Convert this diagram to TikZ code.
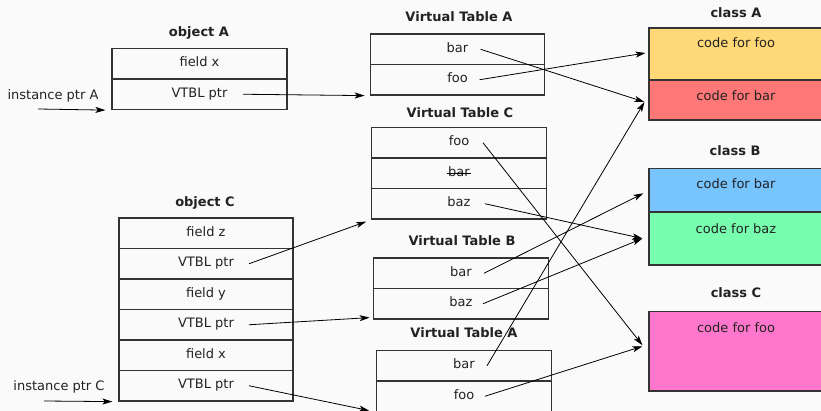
\documentclass[tikz,border=0pt]{standalone}
\usepackage{fontspec}
\setmainfont{DejaVu Sans}
\usetikzlibrary{arrows.meta,calc}
\definecolor{bgc}{HTML}{FAFAFA}
\definecolor{edge}{HTML}{333333}
\definecolor{txt}{HTML}{222222}
\definecolor{cyel}{HTML}{FFD977}
\definecolor{cred}{HTML}{FF7777}
\definecolor{cblue}{HTML}{77C4FF}
\definecolor{cgreen}{HTML}{77FFAF}
\definecolor{cmag}{HTML}{FF77CC}
\begin{document}
\begin{tikzpicture}[x=1pt,y=-1pt,
  font=\fontsize{13}{15}\selectfont, text=txt,
  cell/.style={draw=edge, line width=1.2pt, inner sep=0pt, minimum height=30.5pt,
    text height=9pt, text depth=3pt},
  objcell/.style={cell, minimum width=175pt},
  vtcell/.style={cell, minimum width=174.5pt},
  cls/.style={draw=edge, line width=1.1pt, inner sep=0pt, minimum width=181pt},
  title/.style={font=\fontsize{13}{15}\selectfont\bfseries, inner sep=0pt},
  lbl/.style={inner sep=0pt},
  ptr/.style={draw=black, line width=0.8pt, -{Stealth[length=10pt,width=6pt,inset=2.5pt]}}]
\useasboundingbox[fill=bgc] (0,0) rectangle (821,411);

% object A
\node[title] (tOA) at (199,33) {object A};
\node[objcell] (oa1) at (199.5,63.75) {field x};
\node[objcell] (oa2) at (199.5,94.25) {VTBL ptr};
\node[lbl] (ipa) at (53,96) {instance ptr A};
\coordinate (ipaS) at (38,109);

% object C
\node[title] (tOC) at (205,203) {object C};
\node[objcell, minimum width=174pt] (oc1) at (206,233.25) {field z};
\node[objcell, minimum width=174pt] (oc2) at (206,263.75) {VTBL ptr};
\node[objcell, minimum width=174pt] (oc3) at (206,294.25) {field y};
\node[objcell, minimum width=174pt] (oc4) at (206,324.75) {VTBL ptr};
\node[objcell, minimum width=174pt] (oc5) at (206,355.25) {field x};
\node[objcell, minimum width=174pt] (oc6) at (206,385.75) {VTBL ptr};
\node[lbl] (ipc) at (59,387) {instance ptr C};
\coordinate (ipcS) at (44,401);

% Virtual Table A (top)
\node[title] (tVA) at (459,17) {Virtual Table A};
\node[vtcell] (va1) at (457.5,49.25) {bar};
\node[vtcell] (va2) at (457.5,79.75) {foo};

% Virtual Table C
\node[title] (tVC) at (460,113) {Virtual Table C};
\node[vtcell] (vc1) at (459,142.75) {foo};
\node[vtcell] (vc2) at (459,173.25) {bar};
\node[vtcell] (vc3) at (459,203.75) {baz};
\node[lbl, text height=9pt, text depth=3pt] (strk) at (vc2.center) {\phantom{bar}};
\draw[line width=1pt, black] ([xshift=-1.5pt,yshift=0pt]strk.west) -- ([xshift=1.5pt,yshift=0pt]strk.east);

% Virtual Table B
\node[title] (tVB) at (462,241) {Virtual Table B};
\node[vtcell] (vb1) at (461,273.25) {bar};
\node[vtcell] (vb2) at (461,303.75) {baz};

% Virtual Table A (bottom)
\node[title] (tVA2) at (464,333) {Virtual Table A};
\node[vtcell] (vd1) at (464,365.75) {bar};
\node[vtcell] (vd2) at (464,396.25) {foo};

% classes
\node[title] (tCA) at (736,13) {class A};
\node[cls, fill=cyel, minimum height=52pt] (caY) at (739.5,54) {};
\node[cls, fill=cred, minimum height=40pt] (caR) at (739.5,100) {};
\node[lbl] (caYt) at (736,43) {code for foo};
\node[lbl] (caRt) at (736,96) {code for bar};

\node[title] (tCB) at (735,151) {class B};
\node[cls, fill=cblue, minimum height=43.5pt] (cbB) at (739.5,190.25) {};
\node[cls, fill=cgreen, minimum height=53pt] (cbG) at (739.5,238.5) {};
\node[lbl] (cbBt) at (736,184) {code for bar};
\node[lbl] (cbGt) at (736,229) {code for baz};

\node[title] (tCC) at (736,293) {class C};
\node[cls, fill=cmag, minimum height=79.5pt] (ccM) at (739.5,351.25) {};
\node[lbl] (ccMt) at (736,328) {code for foo};

% instance pointers
\draw[ptr] (ipaS) -- ([xshift=-6pt]oa2.south west);
\draw[ptr] (ipcS) -- ([xshift=-6pt]oc6.south west);

% object -> vtable
\draw[ptr] ([xshift=43.5pt]oa2.center) -- ([xshift=-5pt]va2.south west);
\draw[ptr] ([xshift=43pt]oc2.center) -- ([shift={(-5pt,-2pt)}]vc3.south west);
\draw[ptr] ([xshift=43pt]oc4.center) -- ([shift={(-3.5pt,2pt)}]vb2.south west);
\draw[ptr] ([xshift=43pt]oc6.center) -- ([shift={(-7pt,1.5pt)}]vd2.south west);

% vtable -> code
\draw[ptr] ([xshift=23pt]va1.center) -- ([shift={(-4pt,-2pt)}]caR.west);
\draw[ptr] ([xshift=22pt]va2.center) -- ([shift={(-3pt,1pt)}]caY.west);
\draw[ptr] ([xshift=24pt]vc1.center) -- ([shift={(-6pt,6pt)}]ccM.west);
\draw[ptr] ([xshift=26pt]vc3.center) -- ([xshift=-6pt]cbG.west);
\draw[ptr] ([xshift=23pt]vb1.center) -- ([shift={(-5pt,-3pt)}]cbB.west);
\draw[ptr] ([xshift=22pt]vb2.center) -- ([xshift=-6pt]cbG.west);
\draw[ptr] ([xshift=23pt]vd1.center) -- ([shift={(-4pt,-2pt)}]caR.west);
\draw[ptr] ([xshift=21pt]vd2.center) -- ([shift={(-6pt,5pt)}]ccM.west);
\end{tikzpicture}
\end{document}
